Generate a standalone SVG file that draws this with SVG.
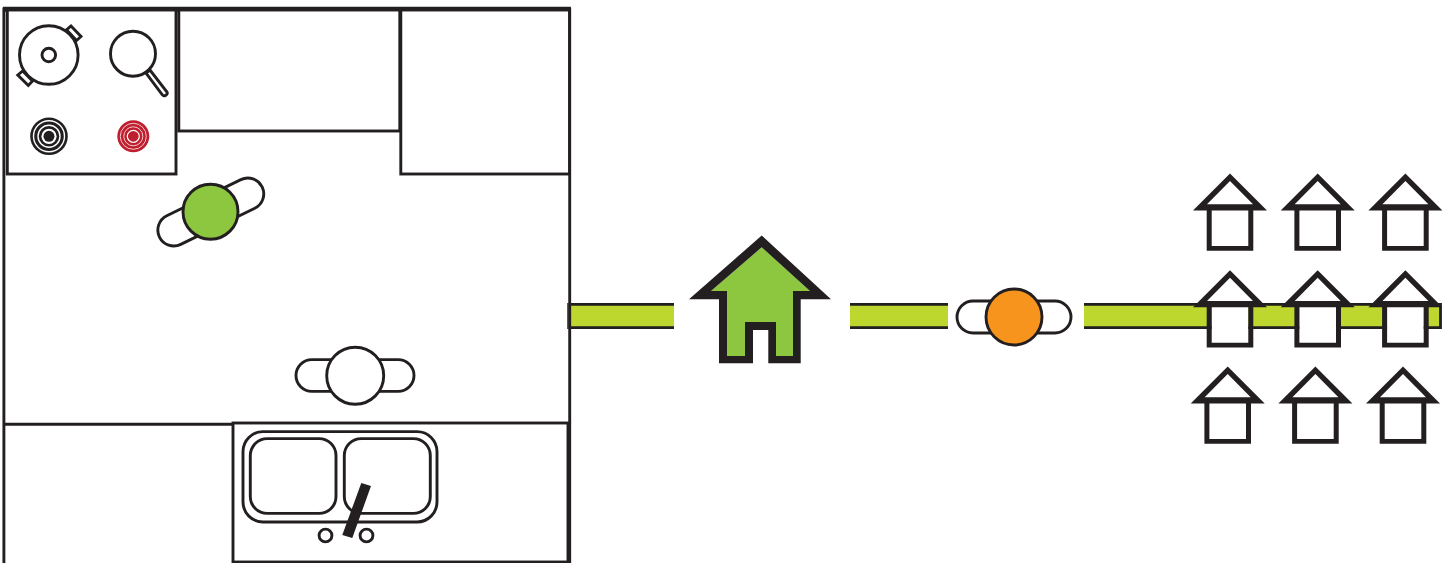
<svg xmlns="http://www.w3.org/2000/svg" width="1448" height="563" viewBox="0 0 1448 563">
<style>
.w{fill:#fff;stroke:#231f20;stroke-width:2.9}
.l{fill:none;stroke:#231f20;stroke-width:2.9}
.k{fill:#231f20}
.bar{fill:#bdd72e}
.edge{fill:none;stroke:#231f20;stroke-width:2.8}
</style>
<defs>
<path id="h" fill="#fff" d="M1207 204.300L1230 181L1253 204.300ZM1211.700 210H1248.300V246H1211.700Z"/>
<path id="hk" fill="#231f20" fill-rule="evenodd" d="M1230 173.500L1267 210.500H1253.300V250.700H1206.700V210.500H1193ZM1230 181L1207 204.300H1253ZM1211.700 210.500V246H1248.300V210.500Z"/>
<g id="house"><use href="#h"/><use href="#hk"/></g>
</defs>
<rect width="1448" height="563" fill="#fff"/>
<g id="connectors">
<rect class="bar" x="568" y="304.300" width="106" height="23.300"/>
<path class="edge" d="M674 304.300H568M568 327.600H674"/>
<path d="M568 303V329" fill="none" stroke="#58595b" stroke-width="2"/>
<rect class="bar" x="850" y="304.300" width="98" height="23.300"/>
<path class="edge" d="M850 304.300H948M850 327.600H948"/>
<rect class="bar" x="1084" y="304.300" width="356.500" height="23.300"/>
<path class="edge" d="M1084 304.300H1440.500V327.600H1084"/>
</g>
<g id="kitchen">
<path class="l" d="M3.900 563V9H569.700V563"/>
<path class="k" d="M3 6.700H570.800V11.700H3Z"/>
<rect class="w" x="178.800" y="10" width="221" height="121"/>
<rect class="w" x="400.800" y="10" width="168.700" height="164"/>
<path class="l" d="M3 424.300H233"/>
<rect class="w" x="233" y="423" width="335" height="139"/>
<path class="k" d="M568 422H571V563H568Z"/>
</g>
<g id="cooktop">
<rect class="w" x="7.300" y="10" width="168.700" height="164"/>
<g id="pot">
<path class="w" d="M71 26L81 36.500L76.500 40.500L66.500 29.800Z"/>
<path class="w" d="M17.800 75L22.700 71L32.500 81L28.300 85.500Z"/>
<circle class="w" cx="48.800" cy="55" r="29.300"/>
<circle class="w" cx="48.800" cy="55" r="6.800"/>
</g>
<g id="pan">
<path class="w" d="M146 73L150 70L167 92Q168 94 165.500 95.500Q164 96.300 162.500 95Z"/>
<circle class="w" cx="133" cy="53.700" r="22.500"/>
</g>
<g id="burner-off">
<circle class="k" cx="49" cy="136.300" r="18.800"/>
<circle cx="49" cy="136.300" r="15.500" fill="none" stroke="#fff" stroke-width="1.400"/>
<circle cx="49" cy="136.300" r="11" fill="none" stroke="#fff" stroke-width="1.400"/>
<circle cx="49" cy="136.300" r="7.600" fill="#fff"/>
<circle class="k" cx="49" cy="136.300" r="5.500"/>
</g>
<g id="burner-on">
<circle cx="133.300" cy="136.300" r="16" fill="#be1e2d"/>
<circle cx="133.300" cy="136.300" r="13" fill="none" stroke="#f4c9ce" stroke-width="1"/>
<circle cx="133.300" cy="136.300" r="9.500" fill="none" stroke="#f4c9ce" stroke-width="1"/>
<circle cx="133.300" cy="136.300" r="6" fill="none" stroke="#fff" stroke-width="1.200"/>
</g>
</g>
<g id="sink">
<rect class="w" x="243" y="431.600" width="194" height="90.400" rx="20"/>
<rect class="w" x="250.300" y="438.600" width="85.700" height="74.800" rx="17"/>
<rect class="w" x="344.300" y="438.600" width="86" height="74.800" rx="17"/>
<circle class="w" cx="325.500" cy="535.500" r="6.400"/>
<circle class="w" cx="366.500" cy="535.500" r="6.400"/>
<path class="k" d="M361.300 483L371 486L352.300 538L342.300 535Z"/>
</g>
<g id="person-green">
<rect class="w" x="153.700" y="196.100" width="114.200" height="31.800" rx="15.900" transform="rotate(-26 210.800 212)"/>
<circle cx="210.500" cy="211.700" r="27.500" fill="#8dc63f" stroke="#231f20" stroke-width="2.900"/>
</g>
<g id="person-white">
<rect class="w" x="296" y="359.600" width="118" height="31.800" rx="15.900"/>
<circle class="w" cx="355.200" cy="375.700" r="28.500"/>
</g>
<g id="person-orange">
<rect class="w" x="957" y="301" width="114" height="32" rx="16"/>
<circle cx="1014" cy="317" r="28" fill="#f7941d" stroke="#231f20" stroke-width="2.900"/>
</g>
<g id="main-house">
<path fill="#8dc63f" d="M761.700 247.300L810 291H793V356H776V322H745V356H727V291H711Z"/>
<path class="k" fill-rule="evenodd" d="M761.700 235.500L831 299.300H800.700V363.300H768.300V330H753V363.300H719V299.300H689ZM761.700 247.300L711 291H727V356H745V322H776V356H793V291H810Z"/>
</g>
<g id="houses">
<use id="house-1" href="#house"/>
<use id="house-2" href="#house" x="87.700"/>
<use id="house-3" href="#house" x="175.400"/>
<use id="house-4" href="#house" y="96.700"/>
<use id="house-5" href="#house" x="87.700" y="96.700"/>
<use id="house-6" href="#house" x="175.400" y="96.700"/>
<use id="house-7" href="#house" x="-2.300" y="193"/>
<use id="house-8" href="#house" x="85.400" y="193"/>
<use id="house-9" href="#house" x="173" y="193"/>
</g>
</svg>
